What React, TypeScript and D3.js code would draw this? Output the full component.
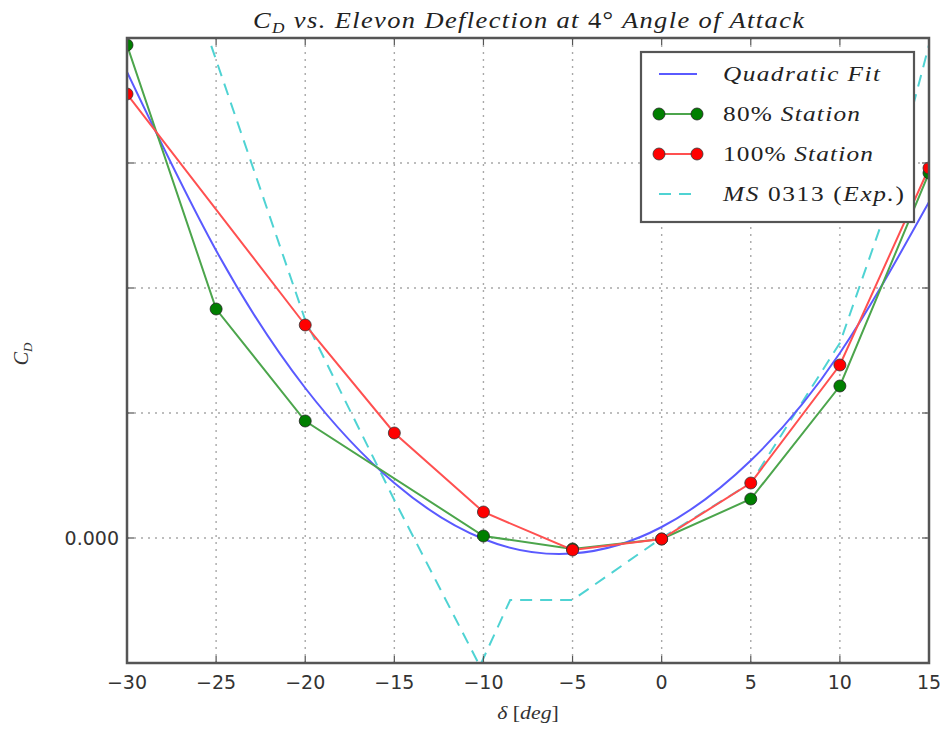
import * as d3 from 'd3';

// elevon deflection (deg) and drag coefficient readings
const fitX = [-30, -25, -20, -15, -10, -5, 0, 5, 10, 15];
const fitCd = [0.01864, 0.0115, 0.006, 0.0022, -0.00004, -0.00062, 0.00044, 0.0031, 0.0074, 0.01344];

const st80X = [-30, -25, -20, -10, -5, 0, 5, 10, 15];
const st80Cd = [0.01972, 0.00916, 0.00468, 0.00008, -0.00044, -0.00004, 0.00156, 0.00608, 0.0146];

const st100X = [-30, -20, -15, -10, -5, 0, 5, 10, 15];
const st100Cd = [0.01776, 0.00852, 0.0042, 0.00104, -0.00048, -0.00004, 0.0022, 0.00692, 0.0148];

const expX = [-26, -25, -20, -15, -10.2, -8.5, -5, 0, 5, 10, 12.5, 15];
const expCd = [0.0212, 0.01912, 0.00872, 0.00152, -0.00512, -0.00248, -0.00248, 0, 0.0022, 0.0078, 0.01292, 0.01972];

const xTicks = [-30, -25, -20, -15, -10, -5, 0, 5, 10, 15];
const yTicks = [-0.005, 0, 0.005, 0.01, 0.015, 0.02];
const yLabelled = [0];

const W = 940;
const H = 729;
const m = { left: 127, right: 11, top: 38, bottom: 66 };

const serif = '"Liberation Serif", "DejaVu Serif", serif';
const sans = '"DejaVu Sans", sans-serif';
// the original used computer-modern, which is wider than Times
const SX = 1.15;

export default function App() {
  const x = d3.scaleLinear().domain([-30, 15]).range([m.left, W - m.right]);
  const y = d3.scaleLinear().domain([-0.005, 0.02]).range([H - m.bottom, m.top]);

  const pts = (xs: number[], ys: number[]) => xs.map((v, i) => [v, ys[i]] as [number, number]);
  const line = d3.line<[number, number]>().x(d => x(d[0])).y(d => y(d[1]));
  const curve = d3.line<[number, number]>().x(d => x(d[0])).y(d => y(d[1])).curve(d3.curveNatural);

  const fit = pts(fitX, fitCd);
  const s80 = pts(st80X, st80Cd);
  const s100 = pts(st100X, st100Cd);
  const exp = pts(expX, expCd);

  const [x0, x1] = x.range();
  const [y0, y1] = y.range();

  const blue = '#5a5aff';
  const green = '#4ca54c';
  const red = '#ff5050';
  const cyan = '#4fd3d3';
  const spine = '#555';

  const lgX = 641, lgY = 52, lgW = 273, lgH = 170;
  const rows = [74, 114, 154, 194];
  const tx = 723;

  return (
    <svg width={W} height={H} style={{ position: 'absolute', left: 0, top: 0, background: '#fff' }}>
      <defs>
        <clipPath id="plot">
          <rect x={x0} y={y1} width={x1 - x0} height={y0 - y1} />
        </clipPath>
      </defs>

      {/* grid */}
      <g stroke="#a8a8a8" strokeWidth={1.4} strokeDasharray="2,5">
        {xTicks.map(t => <line key={'gx' + t} x1={x(t)} x2={x(t)} y1={y1} y2={y0} />)}
        {yTicks.map(t => <line key={'gy' + t} x1={x0} x2={x1} y1={y(t)} y2={y(t)} />)}
      </g>

      {/* data */}
      <g clipPath="url(#plot)" fill="none" strokeWidth={2}>
        <path d={line(exp) ?? ''} stroke={cyan} strokeDasharray="12,8" />
        <path d={curve(fit) ?? ''} stroke={blue} />
        <path d={line(s80) ?? ''} stroke={green} />
        <path d={line(s100) ?? ''} stroke={red} />
        {s80.map((d, i) => (
          <circle key={'g' + i} cx={x(d[0])} cy={y(d[1])} r={6} fill="#007f00" stroke="#222" strokeWidth={0.8} />
        ))}
        {s100.map((d, i) => (
          <circle key={'r' + i} cx={x(d[0])} cy={y(d[1])} r={6} fill="#ff0000" stroke="#333" strokeWidth={0.8} />
        ))}
      </g>

      {/* ticks */}
      <g stroke={spine} strokeWidth={1.2}>
        {xTicks.map(t => (
          <g key={'tx' + t}>
            <line x1={x(t)} x2={x(t)} y1={y0} y2={y0 - 7} />
            <line x1={x(t)} x2={x(t)} y1={y1} y2={y1 + 7} />
          </g>
        ))}
        {yTicks.map(t => (
          <g key={'ty' + t}>
            <line x1={x0} x2={x0 + 7} y1={y(t)} y2={y(t)} />
            <line x1={x1} x2={x1 - 7} y1={y(t)} y2={y(t)} />
          </g>
        ))}
      </g>

      <rect x={x0} y={y1} width={x1 - x0} height={y0 - y1} fill="none" stroke={spine} strokeWidth={2.5} />

      {/* tick labels */}
      <g fontFamily={sans} fontSize={19} fill="#333">
        {xTicks.map(t => (
          <text key={'lx' + t} x={x(t)} y={y0 + 26} textAnchor="middle">
            {t < 0 ? '\u2212' + Math.abs(t) : t}
          </text>
        ))}
        {yLabelled.map(t => (
          <text key={'ly' + t} x={x0 - 8} y={y(t) + 7} textAnchor="end">
            {d3.format('.3f')(t)}
          </text>
        ))}
      </g>

      {/* title */}
      <g transform={`translate(253,28) scale(${SX},1)`}>
        <text x={0} y={0} textLength={551 / SX} lengthAdjust="spacing" fontFamily={serif} fontStyle="italic" fontSize={23} fill="#222">
          C<tspan fontSize={15} dy={5}>D</tspan>
          <tspan dy={-5}> vs. Elevon Deflection at </tspan>
          <tspan fontStyle="normal">4°</tspan>
          <tspan> Angle of Attack</tspan>
        </text>
      </g>

      {/* axis labels */}
      <g transform={`translate(528,719) scale(${SX},1)`}>
        <text x={0} y={0} textAnchor="middle" fontFamily={serif} fontStyle="italic" fontSize={19} fill="#333">
          δ <tspan fontStyle="normal">[</tspan>deg<tspan fontStyle="normal">]</tspan>
        </text>
      </g>
      <text transform="translate(28,354) rotate(-90)" textAnchor="middle" fontFamily={serif} fontStyle="italic" fontSize={20} fill="#333">
        C<tspan fontSize={13} dy={4}>D</tspan>
      </text>

      {/* legend */}
      <rect x={lgX} y={lgY} width={lgW} height={lgH} fill="#fff" stroke={spine} strokeWidth={2.2} />
      <g>
        <line x1={659} x2={697} y1={rows[0]} y2={rows[0]} stroke={blue} strokeWidth={2} />

        <line x1={659} x2={697} y1={rows[1]} y2={rows[1]} stroke={green} strokeWidth={2} />
        <circle cx={659} cy={rows[1]} r={6} fill="#007f00" stroke="#222" strokeWidth={0.8} />
        <circle cx={697} cy={rows[1]} r={6} fill="#007f00" stroke="#222" strokeWidth={0.8} />

        <line x1={659} x2={697} y1={rows[2]} y2={rows[2]} stroke={red} strokeWidth={2} />
        <circle cx={659} cy={rows[2]} r={6} fill="#ff0000" stroke="#333" strokeWidth={0.8} />
        <circle cx={697} cy={rows[2]} r={6} fill="#ff0000" stroke="#333" strokeWidth={0.8} />

        <line x1={659} x2={697} y1={rows[3]} y2={rows[3]} stroke={cyan} strokeWidth={2} strokeDasharray="12,8" />
      </g>
      <g fontFamily={serif} fontSize={22} fill="#222">
        <g transform={`translate(${tx},${rows[0] + 7}) scale(${SX},1)`}>
          <text fontStyle="italic" textLength={157 / SX} lengthAdjust="spacing">Quadratic Fit</text>
        </g>
        <g transform={`translate(${tx},${rows[1] + 7}) scale(${SX},1)`}>
          <text textLength={137 / SX} lengthAdjust="spacing">80% <tspan fontStyle="italic">Station</tspan></text>
        </g>
        <g transform={`translate(${tx},${rows[2] + 7}) scale(${SX},1)`}>
          <text textLength={150 / SX} lengthAdjust="spacing">100% <tspan fontStyle="italic">Station</tspan></text>
        </g>
        <g transform={`translate(${tx},${rows[3] + 7}) scale(${SX},1)`}>
          <text textLength={181 / SX} lengthAdjust="spacing">
            <tspan fontStyle="italic">MS</tspan> 0313 (<tspan fontStyle="italic">Exp.</tspan>)
          </text>
        </g>
      </g>
    </svg>
  );
}
